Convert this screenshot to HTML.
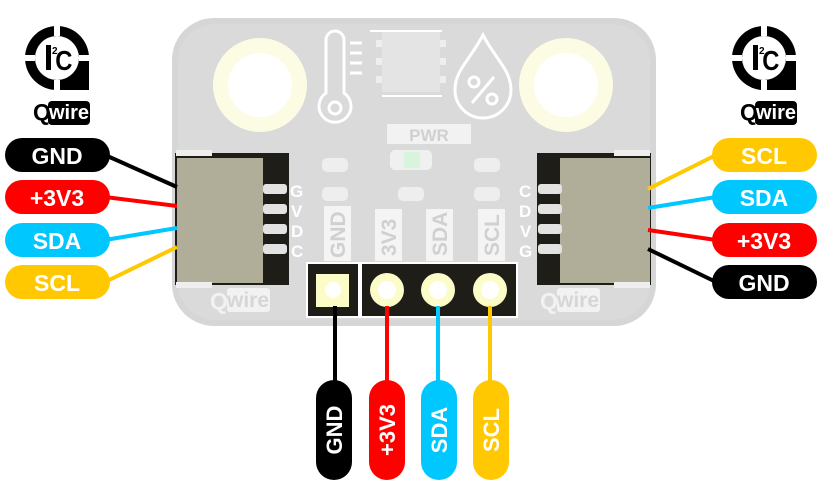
<!DOCTYPE html>
<html><head><meta charset="utf-8"><style>
html,body{margin:0;padding:0;background:#fff;}
svg{display:block}
text{font-family:"Liberation Sans",sans-serif;font-weight:bold;}
</style></head><body>
<svg width="821" height="493" viewBox="0 0 821 493" xmlns="http://www.w3.org/2000/svg">
<defs>
<g id="logo">
  <circle cx="0" cy="0" r="32" fill="#000"/>
  <rect x="0" y="0" width="32" height="32" fill="#000"/>
  <circle cx="0" cy="0" r="22" fill="#fff"/>
  <rect x="-3" y="-34" width="6" height="12" fill="#fff"/>
  <rect x="-3" y="22" width="6" height="12" fill="#fff"/>
  <rect x="-34" y="-3" width="12" height="6" fill="#fff"/>
  <rect x="22" y="-3" width="12" height="6" fill="#fff"/>
  <rect x="-11" y="-13" width="5" height="25" fill="#000"/>
  <text x="-5" y="-4" font-size="10" fill="#000">2</text>
  <text x="8" y="12" font-size="28" text-anchor="middle" fill="#000" transform="scale(0.85,1)">C</text>
  <text x="-24" y="62" font-size="23" fill="#000">Q</text>
  <rect x="-9" y="43" width="42" height="24" rx="4" fill="#000"/>
  <text x="12" y="61" font-size="20" text-anchor="middle" fill="#fff">wire</text>
</g>
</defs>
<rect x="172" y="18" width="484" height="308" rx="42" fill="#d6d6d6"/>
<rect x="178" y="24" width="472" height="296" rx="37" fill="#dadada"/>
<circle cx="260" cy="85" r="47" fill="#fcfce4"/><circle cx="260" cy="85" r="32" fill="#fff"/>
<circle cx="566" cy="85" r="47" fill="#fcfce4"/><circle cx="566" cy="85" r="32" fill="#fff"/>
<g fill="none" stroke="#fff" stroke-width="3">
<path d="M326,93 V40 a9,9 0 0 1 18,0 V93 a16,16 0 1 1 -18,0 Z"/>
<circle cx="335" cy="108" r="6"/>
<line x1="350" y1="43" x2="362" y2="43"/><line x1="350" y1="53" x2="362" y2="53"/><line x1="350" y1="63" x2="362" y2="63"/><line x1="350" y1="73" x2="362" y2="73"/>
<path d="M483,35 C470,60 455,70 455,90 a28,28 0 0 0 56,0 C511,70 496,60 483,35 Z"/>
<line x1="472" y1="103" x2="494" y2="77"/><circle cx="474" cy="82" r="5"/><circle cx="492" cy="99" r="5"/>
</g>
<rect x="382" y="32" width="58" height="60" fill="#e4e4e4"/>
<line x1="370" y1="31" x2="442" y2="31" stroke="#fff" stroke-width="2"/>
<line x1="382" y1="96" x2="442" y2="96" stroke="#fff" stroke-width="2"/>
<g fill="#eee"><rect x="376" y="40" width="6" height="7"/><rect x="376" y="58" width="6" height="7"/><rect x="376" y="76" width="6" height="7"/><rect x="440" y="40" width="6" height="7"/><rect x="440" y="58" width="6" height="7"/><rect x="440" y="76" width="6" height="7"/></g>
<rect x="387" y="124" width="84" height="20" fill="#f2f2f2"/>
<text x="429" y="141" font-size="17" fill="#d0d0d0" text-anchor="middle">PWR</text>
<rect x="390" y="150" width="42" height="20" rx="5" fill="#f0f0f0"/>
<rect x="404" y="152" width="16" height="16" fill="#d8f4dc"/>
<g fill="#eee"><rect x="322" y="158" width="26" height="14" rx="5"/><rect x="322" y="187" width="26" height="14" rx="5"/><rect x="398" y="187" width="26" height="14" rx="5"/><rect x="474" y="158" width="26" height="14" rx="5"/><rect x="474" y="187" width="26" height="14" rx="5"/></g>
<g font-size="21" fill="#d0d0d0">
<rect x="324" y="206" width="27" height="55" fill="#f4f4f4"/>
<rect x="375" y="209" width="27" height="52" fill="#f4f4f4"/>
<rect x="426" y="209" width="27" height="52" fill="#f4f4f4"/>
<rect x="478" y="209" width="27" height="52" fill="#f4f4f4"/>
<text transform="translate(345,258) rotate(-90)">GND</text>
<text transform="translate(396,256) rotate(-90)">3V3</text>
<text transform="translate(447,256) rotate(-90)">SDA</text>
<text transform="translate(499,256) rotate(-90)">SCL</text>
</g>
<rect x="175" y="153" width="114" height="132" fill="#1e1d18"/>
<rect x="177" y="158" width="86" height="125" fill="#b0ae98"/>
<rect x="176" y="150" width="36" height="6" fill="#eee"/><rect x="176" y="282" width="36" height="6" fill="#eee"/>
<g fill="#e2e2e2"><rect x="263" y="184" width="24" height="10" rx="3"/><rect x="263" y="204" width="24" height="10" rx="3"/><rect x="263" y="224" width="24" height="10" rx="3"/><rect x="263" y="244" width="24" height="10" rx="3"/></g>
<g font-size="17" fill="#fff"><text x="290" y="197">G</text><text x="291" y="217">V</text><text x="291" y="237">D</text><text x="291" y="257">C</text></g>
<text x="210" y="309" font-size="23" fill="#f2f2f2">Q</text><rect x="227" y="288" width="43" height="24" rx="3" fill="#f2f2f2"/><text x="248" y="307" font-size="21" fill="#d6d6d6" text-anchor="middle">wire</text>
<rect x="537" y="153" width="114" height="132" fill="#1e1d18"/>
<rect x="560" y="158" width="90" height="125" fill="#b0ae98"/>
<rect x="614" y="150" width="36" height="6" fill="#eee"/><rect x="614" y="282" width="36" height="6" fill="#eee"/>
<g fill="#e2e2e2"><rect x="538" y="184" width="24" height="10" rx="3"/><rect x="538" y="204" width="24" height="10" rx="3"/><rect x="538" y="224" width="24" height="10" rx="3"/><rect x="538" y="244" width="24" height="10" rx="3"/></g>
<g font-size="17" fill="#fff"><text x="519" y="197">C</text><text x="519" y="217">D</text><text x="520" y="237">V</text><text x="519" y="257">G</text></g>
<text x="540" y="309" font-size="23" fill="#f2f2f2">Q</text><rect x="557" y="288" width="43" height="24" rx="3" fill="#f2f2f2"/><text x="578" y="307" font-size="21" fill="#d6d6d6" text-anchor="middle">wire</text>
<rect x="306" y="262" width="212" height="56" fill="#fff"/>
<rect x="308" y="264" width="50" height="52" fill="#1e1d18"/>
<rect x="362" y="264" width="154" height="52" fill="#1e1d18"/>
<rect x="316" y="274" width="33" height="33" fill="#fcfcc8"/><circle cx="333" cy="290" r="8" fill="#fff"/>
<g><circle cx="387" cy="290" r="17" fill="#fcfcc8"/><circle cx="387" cy="290" r="9" fill="#fff"/>
<circle cx="438" cy="290" r="17" fill="#fcfcc8"/><circle cx="438" cy="290" r="9" fill="#fff"/>
<circle cx="490" cy="290" r="17" fill="#fcfcc8"/><circle cx="490" cy="290" r="9" fill="#fff"/></g>
<g stroke-width="4"><line x1="335" y1="306" x2="335" y2="385" stroke="#000"/><line x1="387" y1="306" x2="387" y2="385" stroke="#f00"/><line x1="438" y1="306" x2="438" y2="385" stroke="#00c8ff"/><line x1="490" y1="306" x2="490" y2="385" stroke="#ffc800"/></g>
<g stroke-width="4"><line x1="105" y1="155" x2="177" y2="187" stroke="#000"/><line x1="105" y1="197" x2="177" y2="206" stroke="#f00"/><line x1="105" y1="240" x2="177" y2="228" stroke="#00c8ff"/><line x1="105" y1="282" x2="177" y2="247" stroke="#ffc800"/>
<line x1="716" y1="155" x2="648" y2="189" stroke="#ffc800"/><line x1="716" y1="197" x2="648" y2="208" stroke="#00c8ff"/><line x1="716" y1="240" x2="648" y2="230" stroke="#f00"/><line x1="716" y1="282" x2="648" y2="249" stroke="#000"/></g>
<g font-size="23" text-anchor="middle" fill="#fff">
<rect x="5" y="138" width="105" height="34" rx="17" fill="#000"/><text x="57" y="164">GND</text>
<rect x="5" y="180" width="105" height="34" rx="17" fill="#f00"/><text x="57" y="206">+3V3</text>
<rect x="5" y="223" width="105" height="34" rx="17" fill="#00c8ff"/><text x="57" y="249">SDA</text>
<rect x="5" y="265" width="105" height="34" rx="17" fill="#ffc800"/><text x="57" y="291">SCL</text>
<rect x="712" y="138" width="105" height="34" rx="17" fill="#ffc800"/><text x="764" y="164">SCL</text>
<rect x="712" y="180" width="105" height="34" rx="17" fill="#00c8ff"/><text x="764" y="206">SDA</text>
<rect x="712" y="223" width="105" height="34" rx="17" fill="#f00"/><text x="764" y="249">+3V3</text>
<rect x="712" y="265" width="105" height="34" rx="17" fill="#000"/><text x="764" y="291">GND</text>
</g>
<g font-size="22" fill="#fff" text-anchor="middle">
<rect x="316" y="380" width="36" height="100" rx="18" fill="#000"/><text transform="translate(342,430) rotate(-90)">GND</text>
<rect x="369" y="380" width="36" height="100" rx="18" fill="#f00"/><text transform="translate(395,430) rotate(-90)">+3V3</text>
<rect x="421" y="380" width="36" height="100" rx="18" fill="#00c8ff"/><text transform="translate(447,430) rotate(-90)">SDA</text>
<rect x="473" y="380" width="36" height="100" rx="18" fill="#ffc800"/><text transform="translate(499,430) rotate(-90)">SCL</text>
</g>
<use href="#logo" x="57" y="58"/>
<use href="#logo" x="764" y="58"/>
</svg>
</body></html>
